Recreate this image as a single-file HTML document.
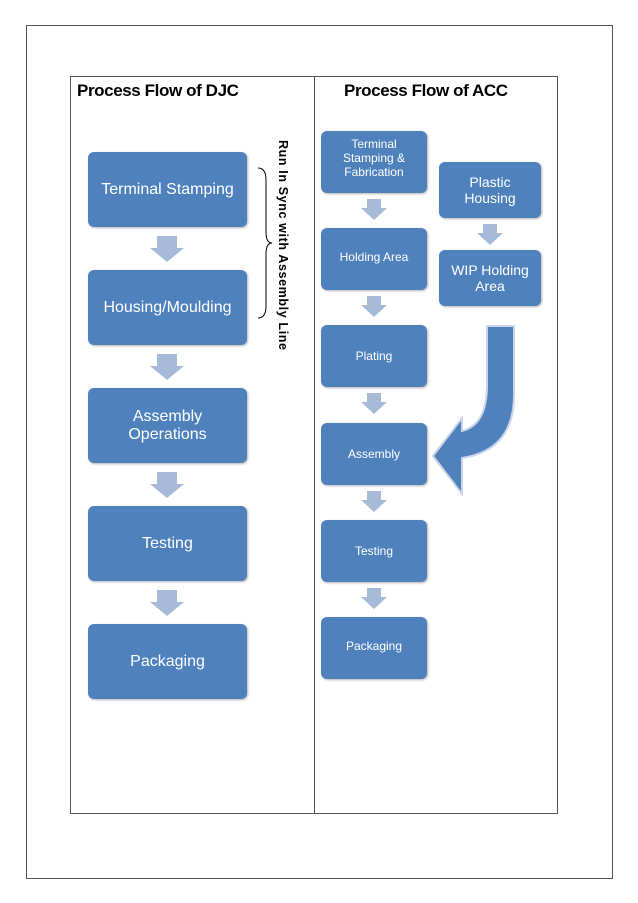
<!DOCTYPE html>
<html><head><style>
body{margin:0;width:638px;height:903px;background:#fff;position:relative;font-family:"Liberation Sans",sans-serif;overflow:hidden}
.a{position:absolute}
.b{position:absolute;background:#4f81bd;border-radius:6px;color:#fff;display:flex;align-items:center;justify-content:center;text-align:center;box-shadow:1px 1px 2px rgba(0,0,0,.3)}
.L{left:88px;width:159px;height:75px;font-size:16px}
.R{left:321px;width:106px;height:62px;font-size:12px}
.P{left:439px;width:102px;height:56px;font-size:14px}
</style></head><body>
<div class="a" style="left:26px;top:25px;width:585px;height:852px;border:1px solid #555"></div>
<div class="a" style="left:70px;top:76px;width:486px;height:736px;border:1px solid #555"></div>
<div class="a" style="left:314px;top:76px;width:1px;height:737px;background:#555"></div>
<div class="a" style="left:77px;top:81px;font-size:17px;font-weight:bold;letter-spacing:-0.4px">Process Flow of DJC</div>
<div class="a" style="left:344px;top:81px;font-size:17px;font-weight:bold;letter-spacing:-0.4px">Process Flow of ACC</div>
<div class="b L" style="top:152px">Terminal Stamping</div>
<div class="b L" style="top:270px">Housing/Moulding</div>
<div class="b L" style="top:388px">Assembly<br>Operations</div>
<div class="b L" style="top:506px">Testing</div>
<div class="b L" style="top:624px">Packaging</div>
<div class="b R" style="top:131px;align-items:flex-start;padding-top:6px;box-sizing:border-box">Terminal<br>Stamping &amp;<br>Fabrication</div>
<div class="b R" style="top:228px;align-items:flex-start;padding-top:22px;box-sizing:border-box">Holding Area</div>
<div class="b R" style="top:325px">Plating</div>
<div class="b R" style="top:423px">Assembly</div>
<div class="b R" style="top:520px">Testing</div>
<div class="b R" style="top:617px;align-items:flex-start;padding-top:22px;box-sizing:border-box">Packaging</div>
<div class="b P" style="top:162px">Plastic<br>Housing</div>
<div class="b P" style="top:250px">WIP Holding<br>Area</div>
<svg class="a" style="left:0;top:0" width="638" height="903">
<g fill="#a7bbd9">
<polygon points="157,236 177,236 177,248 184,248 167,262 150,248 157,248"/>
<polygon points="157,354 177,354 177,366 184,366 167,380 150,366 157,366"/>
<polygon points="157,472 177,472 177,484 184,484 167,498 150,484 157,484"/>
<polygon points="157,590 177,590 177,602 184,602 167,616 150,602 157,602"/>
<polygon points="367,199 381,199 381,208 387,208 374,220 361,208 367,208"/>
<polygon points="367,296 381,296 381,305 387,305 374,317 361,305 367,305"/>
<polygon points="367,393 381,393 381,402 387,402 374,414 361,402 367,402"/>
<polygon points="367,491 381,491 381,500 387,500 374,512 361,500 367,500"/>
<polygon points="367,588 381,588 381,597 387,597 374,609 361,597 367,597"/>
<polygon points="483,224 497,224 497,233 503,233 490,245 477,233 483,233"/>
</g>
<path d="M487,326 L514,326 L514,395 Q514,450 462,458 L462,494 L433,456 L462,418 L462,431 Q487,425 487,385 Z" fill="#4f81bd" stroke="#c9d5e8" stroke-width="2"/>
<path d="M258,168 Q266,168 266,180 L266,232 Q266,243 272,243 Q266,243 266,254 L266,306 Q266,318 258,318" fill="none" stroke="#000" stroke-width="1"/>
<text x="0" y="0" transform="translate(279,140) rotate(90)" font-family="Liberation Sans" font-weight="bold" font-size="12.5" textLength="210">Run In Sync with Assembly Line</text>
</svg>
</body></html>
